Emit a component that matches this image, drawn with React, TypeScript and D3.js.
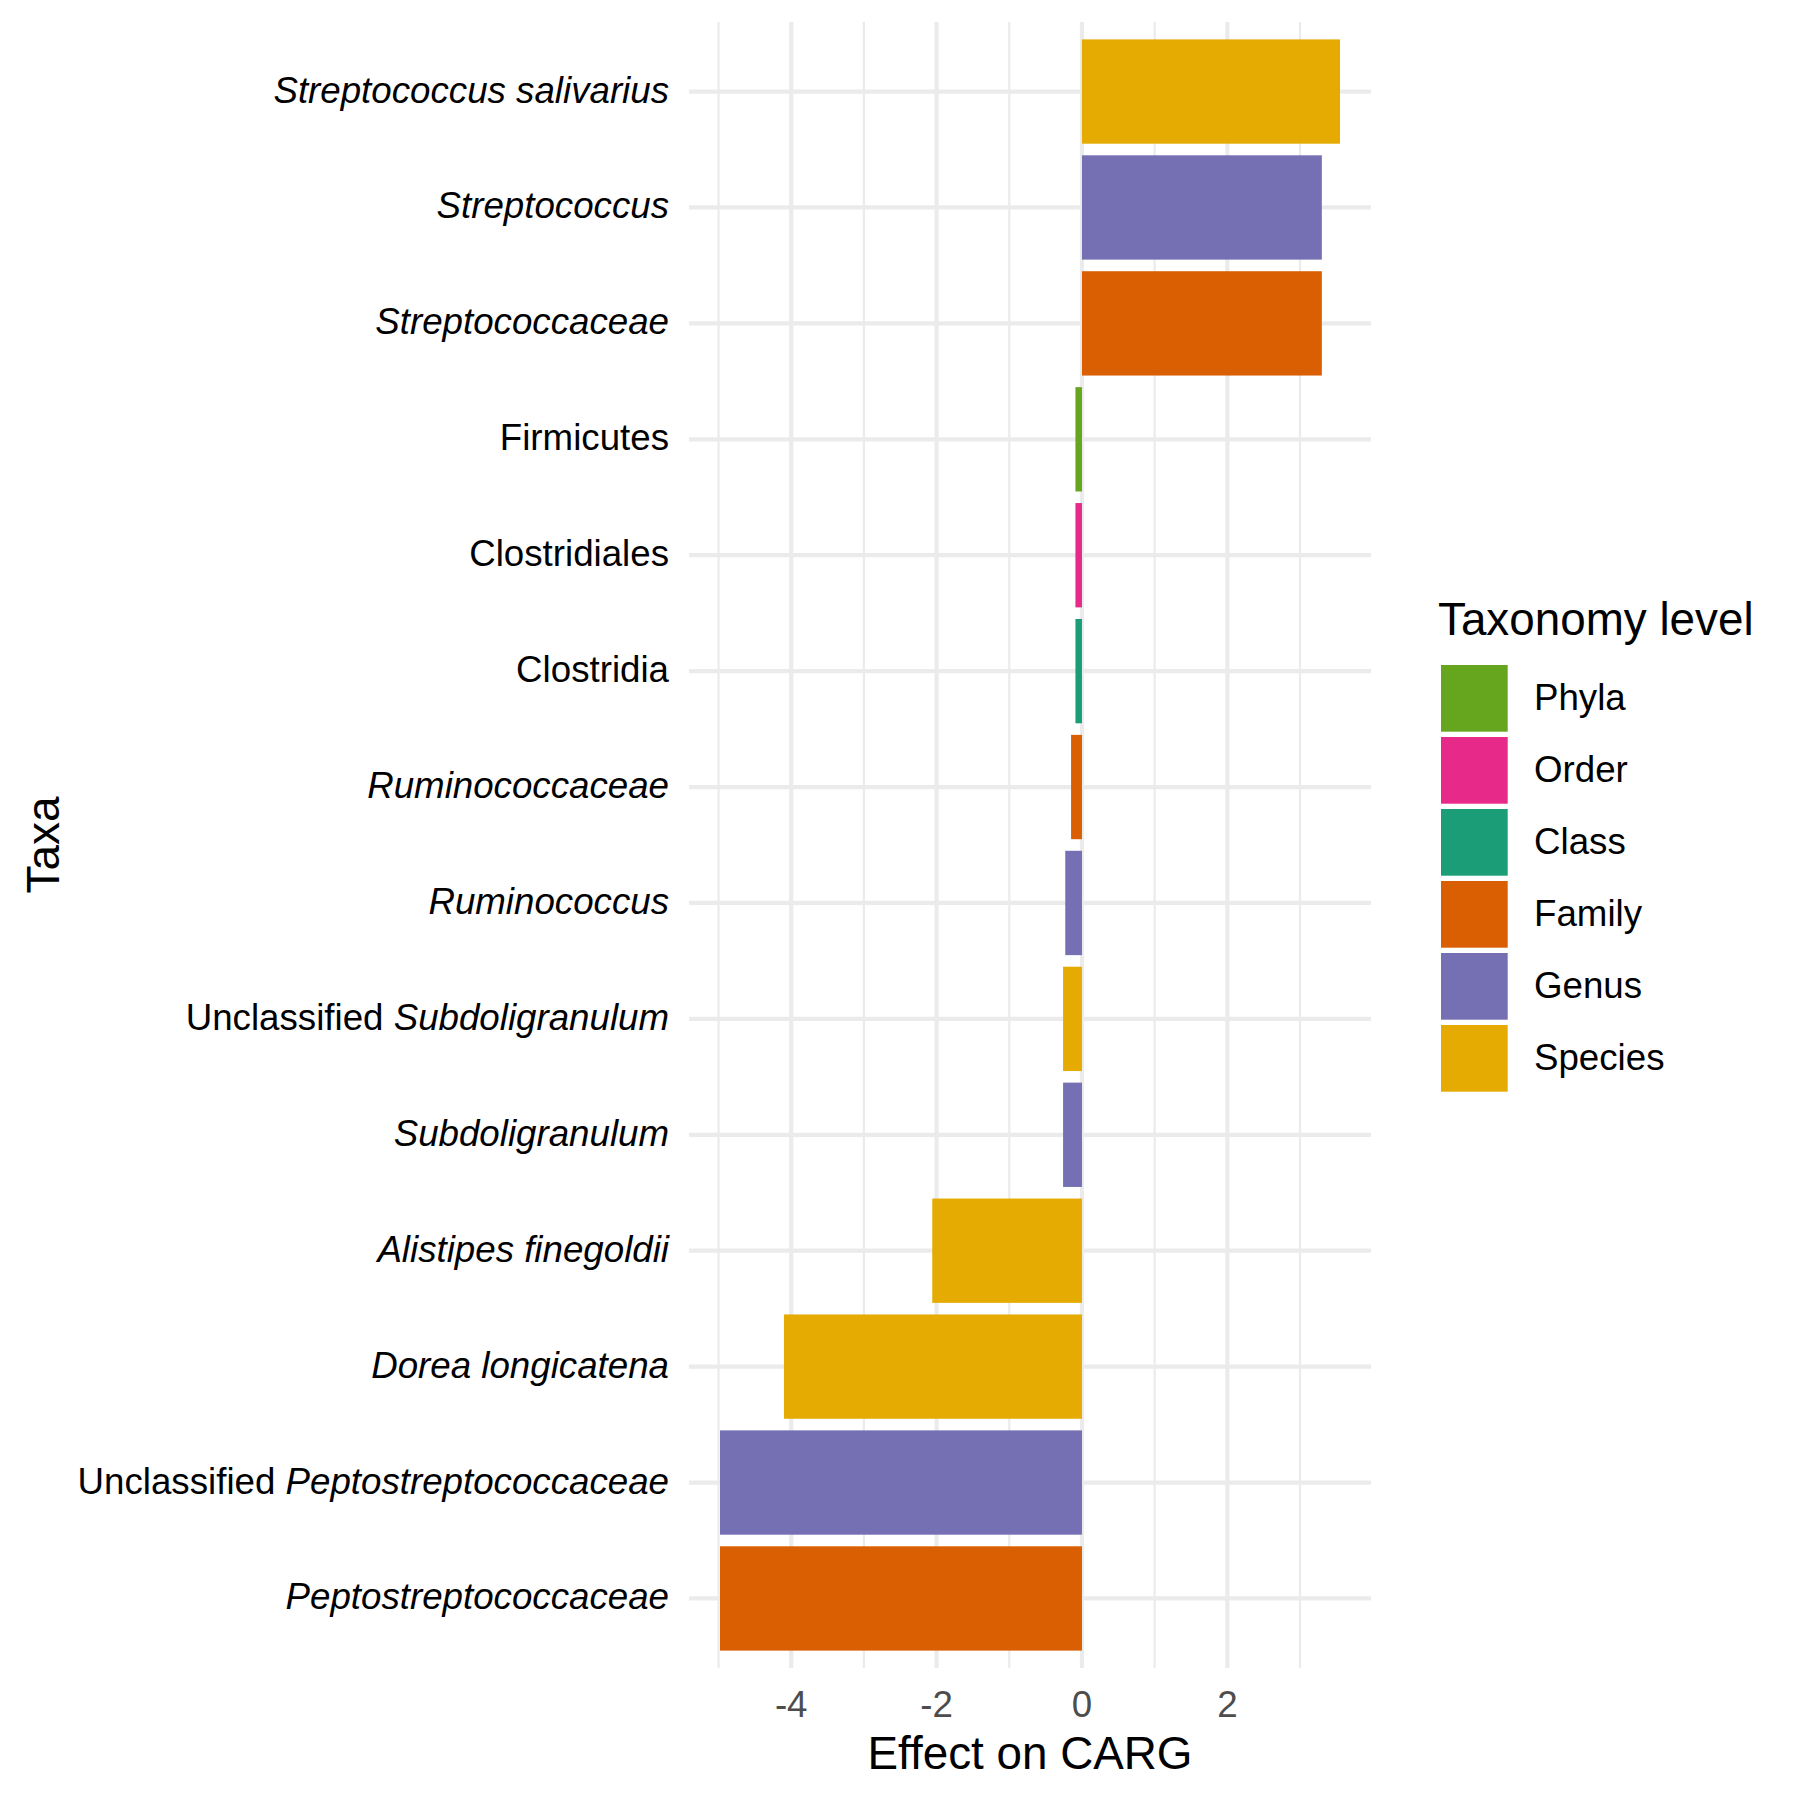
import * as d3 from "d3";

// taxa from top to bottom, with the part of the label that is set in italics
const prefixes = ["", "", "", "", "", "", "", "", "Unclassified ", "", "", "", "Unclassified ", ""];
const names = [
  "Streptococcus salivarius",
  "Streptococcus",
  "Streptococcaceae",
  "Firmicutes",
  "Clostridiales",
  "Clostridia",
  "Ruminococcaceae",
  "Ruminococcus",
  "Subdoligranulum",
  "Subdoligranulum",
  "Alistipes finegoldii",
  "Dorea longicatena",
  "Peptostreptococcaceae",
  "Peptostreptococcaceae",
];
const italic = [true, true, true, false, false, false, true, true, true, true, true, true, true, true];
const levels = ["Species", "Genus", "Family", "Phyla", "Order", "Class", "Family", "Genus", "Species", "Genus", "Species", "Species", "Genus", "Family"];
const effects = [3.55, 3.3, 3.3, -0.09, -0.09, -0.09, -0.15, -0.23, -0.26, -0.26, -2.06, -4.1, -4.98, -4.98];

const legendLevels = ["Phyla", "Order", "Class", "Family", "Genus", "Species"];
const legendColors = ["#66A61E", "#E7298A", "#1B9E77", "#D95F02", "#7570B3", "#E6AB02"];

const majorTicks = [-4, -2, 0, 2];
const minorTicks = [-5, -3, -1, 1, 3];

const PANEL = { left: 689, right: 1371, top: 22, bottom: 1668 };
const FONT = "'Liberation Sans', Arial, Helvetica, sans-serif";

export default function App() {
  const keys = names.map((n, i) => `${i}-${n}`);

  // ggplot style 5% expansion on the continuous axis
  const lo = d3.min(effects.concat([0])) as number;
  const hi = d3.max(effects.concat([0])) as number;
  const pad = (hi - lo) * 0.05;
  const x = d3.scaleLinear().domain([lo - pad, hi + pad]).range([PANEL.left, PANEL.right]);

  const y = d3
    .scaleBand()
    .domain(keys)
    .range([PANEL.top, PANEL.bottom])
    .paddingInner(0.1)
    .paddingOuter(0.15);

  const color = d3.scaleOrdinal<string, string>().domain(legendLevels).range(legendColors);

  const bars = effects.map((v, i) => {
    const y0 = y(keys[i]) as number;
    return (
      <rect
        key={i}
        x={x(Math.min(0, v))}
        y={y0}
        width={Math.abs(x(v) - x(0))}
        height={y.bandwidth()}
        fill={color(levels[i])}
      />
    );
  });

  const labels = names.map((n, i) => {
    const cy = (y(keys[i]) as number) + y.bandwidth() / 2;
    return (
      <text key={i} x={669} y={cy} dy="0.3em" textAnchor="end" fontSize={36.7} fill="#000">
        {prefixes[i] && <tspan>{prefixes[i]}</tspan>}
        <tspan fontStyle={italic[i] ? "italic" : "normal"}>{n}</tspan>
      </text>
    );
  });

  return (
    <div>
      <style>{"body{margin:0}"}</style>
      <svg width={1800} height={1800} style={{ display: "block", fontFamily: FONT }}>
        <rect width={1800} height={1800} fill="#fff" />
        {/* grid */}
        {minorTicks.map((t) => (
          <line key={"m" + t} x1={x(t)} x2={x(t)} y1={PANEL.top} y2={PANEL.bottom} stroke="#EBEBEB" strokeWidth={2.2} />
        ))}
        {majorTicks.map((t) => (
          <line key={"M" + t} x1={x(t)} x2={x(t)} y1={PANEL.top} y2={PANEL.bottom} stroke="#EBEBEB" strokeWidth={4.2} />
        ))}
        {keys.map((k) => {
          const cy = (y(k) as number) + y.bandwidth() / 2;
          return <line key={k} x1={PANEL.left} x2={PANEL.right} y1={cy} y2={cy} stroke="#EBEBEB" strokeWidth={4.2} />;
        })}
        {bars}
        {labels}
        {majorTicks.map((t) => (
          <text key={"t" + t} x={x(t)} y={1717} textAnchor="middle" fontSize={36.7} fill="#4D4D4D">
            {t}
          </text>
        ))}
        <text x={(PANEL.left + PANEL.right) / 2} y={1769} textAnchor="middle" fontSize={45.8} fill="#000">
          Effect on CARG
        </text>
        <text
          transform={`translate(59,${(PANEL.top + PANEL.bottom) / 2}) rotate(-90)`}
          textAnchor="middle"
          fontSize={45.8}
          fill="#000"
        >
          Taxa
        </text>
        {/* legend */}
        <text x={1438} y={635} fontSize={45.8} fill="#000">
          Taxonomy level
        </text>
        {legendLevels.map((lv, i) => (
          <g key={lv} transform={`translate(1441,${665 + i * 72})`}>
            <rect width={66.7} height={66.7} fill={color(lv)} />
            <text x={93} y={33.3} dy="0.33em" fontSize={36.7} fill="#000">
              {lv}
            </text>
          </g>
        ))}
      </svg>
    </div>
  );
}
